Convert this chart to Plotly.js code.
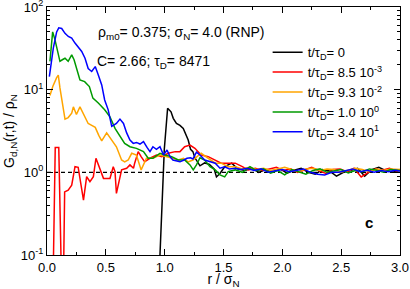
<!DOCTYPE html>
<html><head><meta charset="utf-8">
<script src="https://cdn.plot.ly/plotly-3.0.1.min.js"></script>
<style>html,body{margin:0;padding:0;background:#fff}#chart{width:410px;height:289px}</style>
</head><body><div id="chart"></div>
<script>
// t/tau_D = 0
const r_black = [0.945,0.997,1.025,1.054,1.073,1.10,1.13,1.158,1.20,1.22,1.24,1.257,1.30,1.34,1.38,1.42,1.44,1.47,1.51,1.57,1.62,1.68,1.74,1.80,1.86,1.92,1.98,2.04,2.10,2.16,2.22,2.28,2.34,2.40,2.46,2.52,2.58,2.64,2.70,2.76,2.82,2.88,2.94,3.0];
const g_black = [0.03,1.9,5.97,5.4,4.5,3.9,3.7,3.4,2.46,1.9,1.78,1.5,1.2,1.3,1.25,1.1,0.88,0.97,1.17,1.29,1.1,1.05,1.12,1.0,1.08,1.02,1.1,0.98,1.06,1.12,1.0,0.95,1.08,1.04,0.9,1.0,1.05,1.12,0.9,1.08,1.15,1.05,1.0,1.06];
// t/tau_D = 8.5e-3
const r_red = [0.052,0.07,0.10,0.123,0.14,0.15,0.18,0.21,0.238,0.265,0.31,0.337,0.365,0.394,0.416,0.445,0.48,0.535,0.563,0.578,0.59,0.634,0.677,0.705,0.735,0.745,0.775,0.80,0.83,0.875,0.93,0.975,1.03,1.09,1.13,1.17,1.215,1.257,1.31,1.37,1.43,1.48,1.54,1.60,1.66,1.71,1.77,1.83,1.89,1.95,2.01,2.07,2.13,2.19,2.25,2.31,2.37,2.43,2.49,2.55,2.61,2.67,2.73,2.79,2.85,2.91,2.97,3.0];
const g_red = [0.05,2.0,2.0,0.05,0.05,0.58,0.61,0.70,1.17,1.15,0.46,0.885,0.77,0.885,1.48,1.12,0.845,0.845,1.17,1.02,0.556,1.07,1.12,1.23,1.12,1.29,1.78,1.55,1.34,1.48,1.62,1.55,1.70,1.78,1.78,2.04,2.14,1.95,1.62,1.55,1.41,1.29,1.29,1.29,1.17,1.07,1.12,1.05,1.1,1.15,1.05,1.1,1.0,1.08,1.15,1.05,0.97,1.08,1.1,1.02,1.12,0.88,1.0,1.1,1.06,1.12,1.04,1.08];
// t/tau_D = 9.3e-2
const r_orange = [0.025,0.05,0.082,0.096,0.11,0.13,0.153,0.18,0.21,0.224,0.25,0.28,0.31,0.35,0.38,0.41,0.44,0.465,0.507,0.55,0.59,0.634,0.66,0.69,0.72,0.76,0.79,0.80,0.845,0.90,0.96,1.02,1.07,1.115,1.16,1.20,1.24,1.31,1.37,1.43,1.48,1.54,1.60,1.66,1.72,1.78,1.84,1.90,1.96,2.02,2.08,2.14,2.20,2.26,2.32,2.38,2.44,2.50,2.56,2.62,2.68,2.74,2.80,2.86,2.92,3.0];
const g_orange = [8.5,11,14,15,10.5,7,4.4,4.6,5.2,6.2,5.0,6.2,5.0,3.9,3.7,3.5,2.8,2.4,3.0,2.46,2.04,1.41,1.34,1.41,1.70,1.62,1.23,1.07,1.48,1.48,1.62,1.55,1.48,1.41,1.48,1.34,1.41,1.70,1.48,1.29,1.29,1.17,1.17,1.1,1.15,1.08,1.12,1.05,1.1,1.15,1.08,1.02,1.1,1.12,1.05,1.1,1.08,1.0,1.06,1.12,1.08,1.02,1.1,1.05,1.1,1.08];
// t/tau_D = 1.0e0
const r_green = [0.025,0.048,0.068,0.09,0.11,0.13,0.153,0.18,0.21,0.23,0.257,0.28,0.32,0.36,0.39,0.436,0.49,0.535,0.578,0.62,0.66,0.705,0.76,0.82,0.86,0.90,0.96,1.0,1.06,1.115,1.17,1.215,1.243,1.27,1.30,1.34,1.385,1.43,1.47,1.51,1.54,1.60,1.66,1.725,1.78,1.84,1.90,1.96,2.02,2.08,2.14,2.20,2.26,2.32,2.38,2.44,2.50,2.56,2.62,2.68,2.74,2.80,2.86,2.92,3.0];
const g_green = [22,50,40,30,22,23,24,22,26.4,23,16.6,13.1,12.5,10.9,7.9,6.9,5.7,4.7,3.4,2.7,2.24,2.04,1.95,1.78,1.48,1.48,1.70,1.62,1.55,1.41,1.41,1.23,1.07,1.23,1.5,1.41,1.17,1.07,0.93,0.88,1.02,1.07,1.0,1.17,1.05,1.1,0.98,1.05,0.93,1.08,1.02,0.95,1.05,1.1,1.0,1.04,1.08,0.98,1.05,1.02,1.1,1.06,1.0,1.08,1.05];
// t/tau_D = 3.4e1
const r_blue = [0.02,0.054,0.082,0.10,0.125,0.153,0.181,0.21,0.238,0.26,0.295,0.323,0.35,0.38,0.41,0.436,0.465,0.49,0.52,0.55,0.59,0.62,0.65,0.677,0.705,0.733,0.76,0.79,0.82,0.85,0.875,0.90,0.93,0.96,0.99,1.02,1.045,1.07,1.10,1.13,1.16,1.19,1.22,1.24,1.27,1.30,1.34,1.385,1.43,1.47,1.51,1.55,1.60,1.65,1.70,1.76,1.82,1.88,1.94,2.00,2.06,2.12,2.18,2.24,2.30,2.36,2.42,2.48,2.54,2.60,2.66,2.72,2.78,2.84,2.90,2.96,3.0];
const g_blue = [14.4,32,50,56,55,48,44,42,36.6,33,29,24,18,16.6,19,15,11.4,7.5,5.7,3.6,3.9,4.4,3.9,3.0,2.46,2.24,2.3,2.2,2.35,2.0,1.78,2.04,1.9,2.04,1.62,1.86,1.55,1.41,1.38,1.34,1.4,1.48,1.5,1.45,1.75,1.62,1.41,1.34,1.29,1.12,1.17,1.1,1.12,1.08,1.12,1.05,1.1,1.0,1.05,1.08,1.02,1.06,1.1,1.0,0.95,0.93,1.0,1.0,1.04,1.1,1.02,1.06,1.0,1.05,1.02,1.06,1.04];

const seriesNames = ["t/τ<sub>D</sub>= 0","t/τ<sub>D</sub>= 8.5 10<sup>-3</sup>","t/τ<sub>D</sub>= 9.3 10<sup>-2</sup>","t/τ<sub>D</sub>= 1.0 10<sup>0</sup>","t/τ<sub>D</sub>= 3.4 10<sup>1</sup>"];
const seriesColors = ["#000000","#ff0000","#ffa500","#009a00","#0000ff"];
const refX = [0, 3];
const refY = [1, 1];
const yTickVals = [0.1, 1, 10, 100];
const yTickText = ["10<sup>-1</sup>","10<sup>0</sup>","10<sup>1</sup>","10<sup>2</sup>"];

const xs = [r_black, r_red, r_orange, r_green, r_blue];
const ys = [g_black, g_red, g_orange, g_green, g_blue];

const traces = [{x: refX, y: refY, mode: 'lines', line: {color: '#000', width: 1.2, dash: '4px,3px'}, showlegend: false, hoverinfo: 'skip'}];
for (let i = 0; i < xs.length; i++) {
  traces.push({x: xs[i], y: ys[i], mode: 'lines', name: seriesNames[i], line: {color: seriesColors[i], width: 1.5}});
}

const font = "Liberation Sans, Arial, sans-serif";
const layout = {
  width: 410, height: 289,
  margin: {l: 47, r: 10, t: 7, b: 34},
  paper_bgcolor: '#fff', plot_bgcolor: '#fff',
  font: {family: font, size: 13, color: '#000'},
  showlegend: true,
  legend: {x: 0.625, y: 0.878, xanchor: 'left', yanchor: 'top', bgcolor: 'rgba(0,0,0,0)', font: {size: 13}, tracegroupgap: 0},
  xaxis: {range: [0, 3], dtick: 0.5, tick0: 0, tickformat: '.1f', ticks: 'inside', ticklen: 6, tickcolor: '#000',
    showline: true, linecolor: '#000', linewidth: 1, mirror: 'allticks', showgrid: false, zeroline: false,
    ticklabeloverflow: 'allow',
    minor: {dtick: 0.25, ticks: 'inside', ticklen: 3, tickcolor: '#000', showgrid: false},
    title: {text: 'r / σ<sub>N</sub>', font: {size: 14}, standoff: 3}},
  yaxis: {type: 'log', range: [-1, 2], tickvals: yTickVals, ticktext: yTickText, ticks: 'inside', ticklen: 6, tickcolor: '#000',
    showline: true, linecolor: '#000', linewidth: 1, mirror: 'allticks', showgrid: false, zeroline: false,
    ticklabeloverflow: 'allow',
    minor: {dtick: 'D1', ticks: 'inside', ticklen: 3, tickcolor: '#000', showgrid: false},
    title: {text: 'G<sub>d,N</sub>(r,t) / ρ<sub>N</sub>', font: {size: 14}, standoff: 2}},
  annotations: [
    {xref: 'paper', yref: 'paper', x: 0.139, y: 0.895, xanchor: 'left', yanchor: 'middle', showarrow: false, text: 'ρ<sub>m0</sub>= 0.375; σ<sub>N</sub>= 4.0 (RNP)', font: {size: 14}},
    {xref: 'paper', yref: 'paper', x: 0.136, y: 0.778, xanchor: 'left', yanchor: 'middle', showarrow: false, text: 'C= 2.66; τ<sub>D</sub>= 8471', font: {size: 14}},
    {xref: 'paper', yref: 'paper', x: 0.912, y: 0.133, xanchor: 'center', yanchor: 'middle', showarrow: false, text: '<b>c</b>', font: {size: 15}}
  ]
};
Plotly.newPlot('chart', traces, layout, {staticPlot: true, displayModeBar: false});
</script></body></html>
